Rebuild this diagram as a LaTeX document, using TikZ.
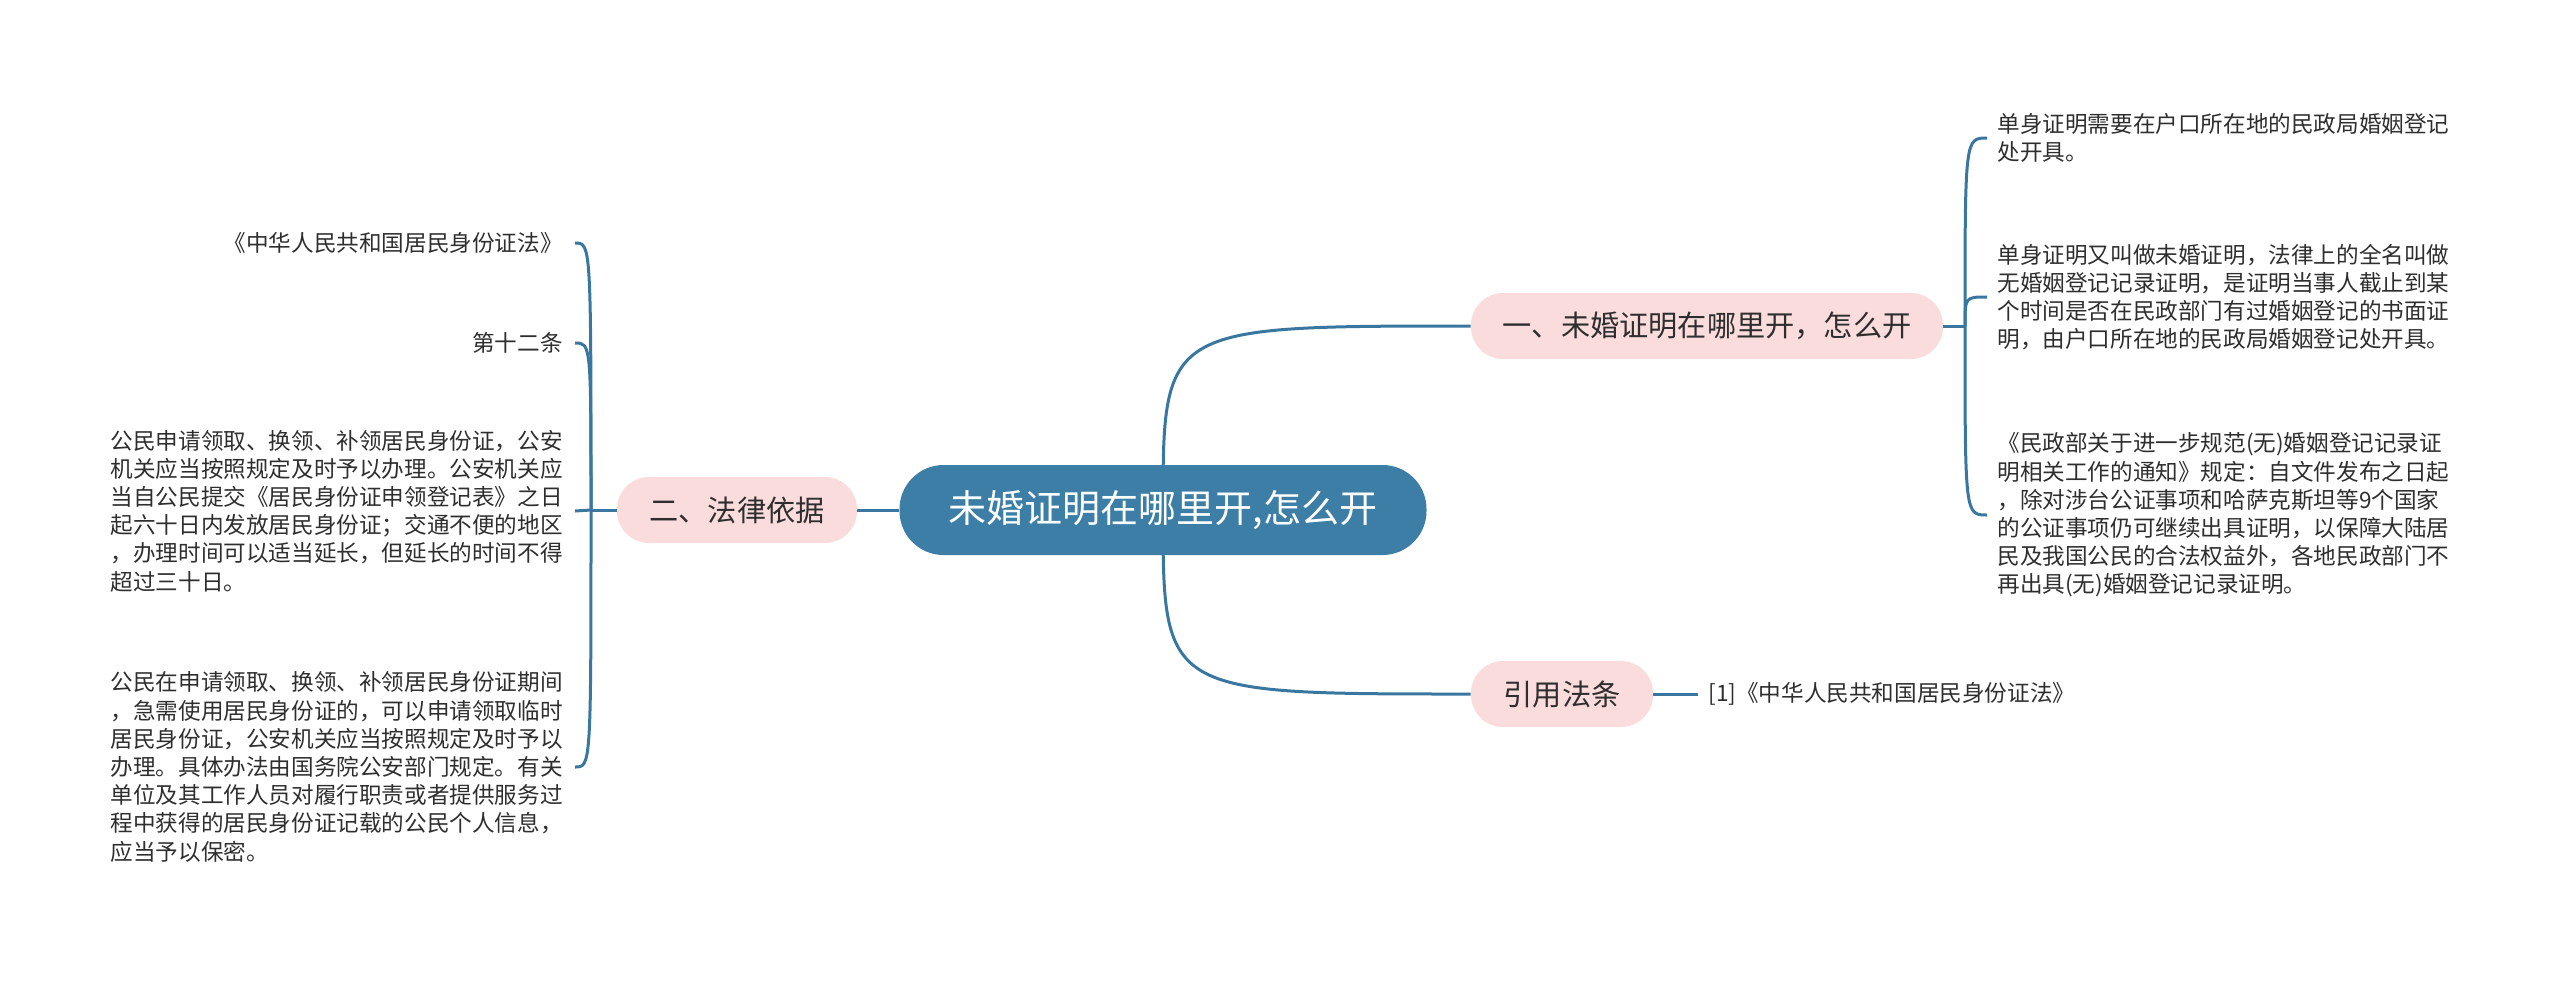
\documentclass[tikz,border=0pt]{standalone}
\usepackage{fontspec}
\setmainfont{Noto Sans CJK SC}
\usepackage{xcolor}
\usetikzlibrary{backgrounds}
\definecolor{root-blue}{HTML}{3D7EA6}
\definecolor{link-blue}{HTML}{3A77A0}
\definecolor{topic-pink}{HTML}{FADCDC}
\definecolor{leaf-text}{HTML}{2E2E2E}

\begin{document}
\begin{tikzpicture}[x=0.5pt, y=-0.5pt,
    every node/.style={text=leaf-text},
    root/.style={fill=root-blue, text=white, rounded corners=22pt,
      minimum width=263.5pt, minimum height=45pt, inner sep=0pt,
      font=\fontsize{19}{22}\selectfont},
    topic/.style={fill=topic-pink, rounded corners=16pt,
      minimum height=33pt, inner sep=0pt, font=\fontsize{14.6}{17}\selectfont},
    leaf/.style={inner sep=0pt, align=left, font=\fontsize{11.3}{14.1}\selectfont},
    link/.style={draw=link-blue, line width=1.5pt}]
    \useasboundingbox (0, 0) rectangle (2560, 987);

    \node[root] (root) at (1163, 510) {未婚证明在哪里开,怎么开};
    \node[topic, minimum width=236pt] (where) at (1707, 326) {一、未婚证明在哪里开，怎么开};
    \node[topic, minimum width=120pt] (basis) at (737, 510) {二、法律依据};
    \node[topic, minimum width=91pt] (cite) at (1562, 694) {引用法条};

    % right side
    \node[leaf, anchor=west] (w1) at (1997, 138)
      {单身证明需要在户口所在地的民政局婚姻登记\\处开具。};
    \node[leaf, anchor=west] (w2) at (1997, 297)
      {单身证明又叫做未婚证明，法律上的全名叫做\\无婚姻登记记录证明，是证明当事人截止到某\\个时间是否在民政部门有过婚姻登记的书面证\\明，由户口所在地的民政局婚姻登记处开具。};
    \node[leaf, anchor=west] (w3) at (1997, 515)
      {《民政部关于进一步规范(无)婚姻登记记录证\\明相关工作的通知》规定：自文件发布之日起\\，除对涉台公证事项和哈萨克斯坦等9个国家\\的公证事项仍可继续出具证明，以保障大陆居\\民及我国公民的合法权益外，各地民政部门不\\再出具(无)婚姻登记记录证明。};
    \node[leaf, anchor=west] (c1) at (1708, 694) {[1]《中华人民共和国居民身份证法》};

    % left side
    \node[leaf, anchor=east] (b1) at (563, 243) {《中华人民共和国居民身份证法》};
    \node[leaf, anchor=east] (b2) at (563, 343) {第十二条};
    \node[leaf, anchor=east] (b3) at (563, 511)
      {公民申请领取、换领、补领居民身份证，公安\\机关应当按照规定及时予以办理。公安机关应\\当自公民提交《居民身份证申领登记表》之日\\起六十日内发放居民身份证；交通不便的地区\\，办理时间可以适当延长，但延长的时间不得\\超过三十日。};
    \node[leaf, anchor=east] (b4) at (563, 767)
      {公民在申请领取、换领、补领居民身份证期间\\，急需使用居民身份证的，可以申请领取临时\\居民身份证，公安机关应当按照规定及时予以\\办理。具体办法由国务院公安部门规定。有关\\单位及其工作人员对履行职责或者提供服务过\\程中获得的居民身份证记载的公民个人信息，\\应当予以保密。};

    \coordinate (wj) at (1965, 326);
    \coordinate (bj) at (591, 510);

    \begin{scope}[on background layer]
      \draw[link] (root.center) .. controls (root.center |- where.west) .. (where.west);
      \draw[link] (root.center) .. controls (root.center |- cite.west) .. (cite.west);
    \end{scope}
    \draw[link] (root.west) -- (basis.east);
    \draw[link] (cite.east) -- ([xshift=-5pt]c1.west);

    \draw[link] (where.east) -- (wj);
    \foreach \n in {w1, w2, w3}
      \draw[link] (wj) .. controls (wj |- \n.west) .. ([xshift=-5pt]\n.west);

    \draw[link] (basis.west) -- (bj);
    \foreach \n in {b1, b2, b4}
      \draw[link] (bj) .. controls (bj |- \n.east) .. ([xshift=6pt]\n.east);
    \draw[link] (bj) -- ([xshift=6pt]b3.east);
\end{tikzpicture}
\end{document}
